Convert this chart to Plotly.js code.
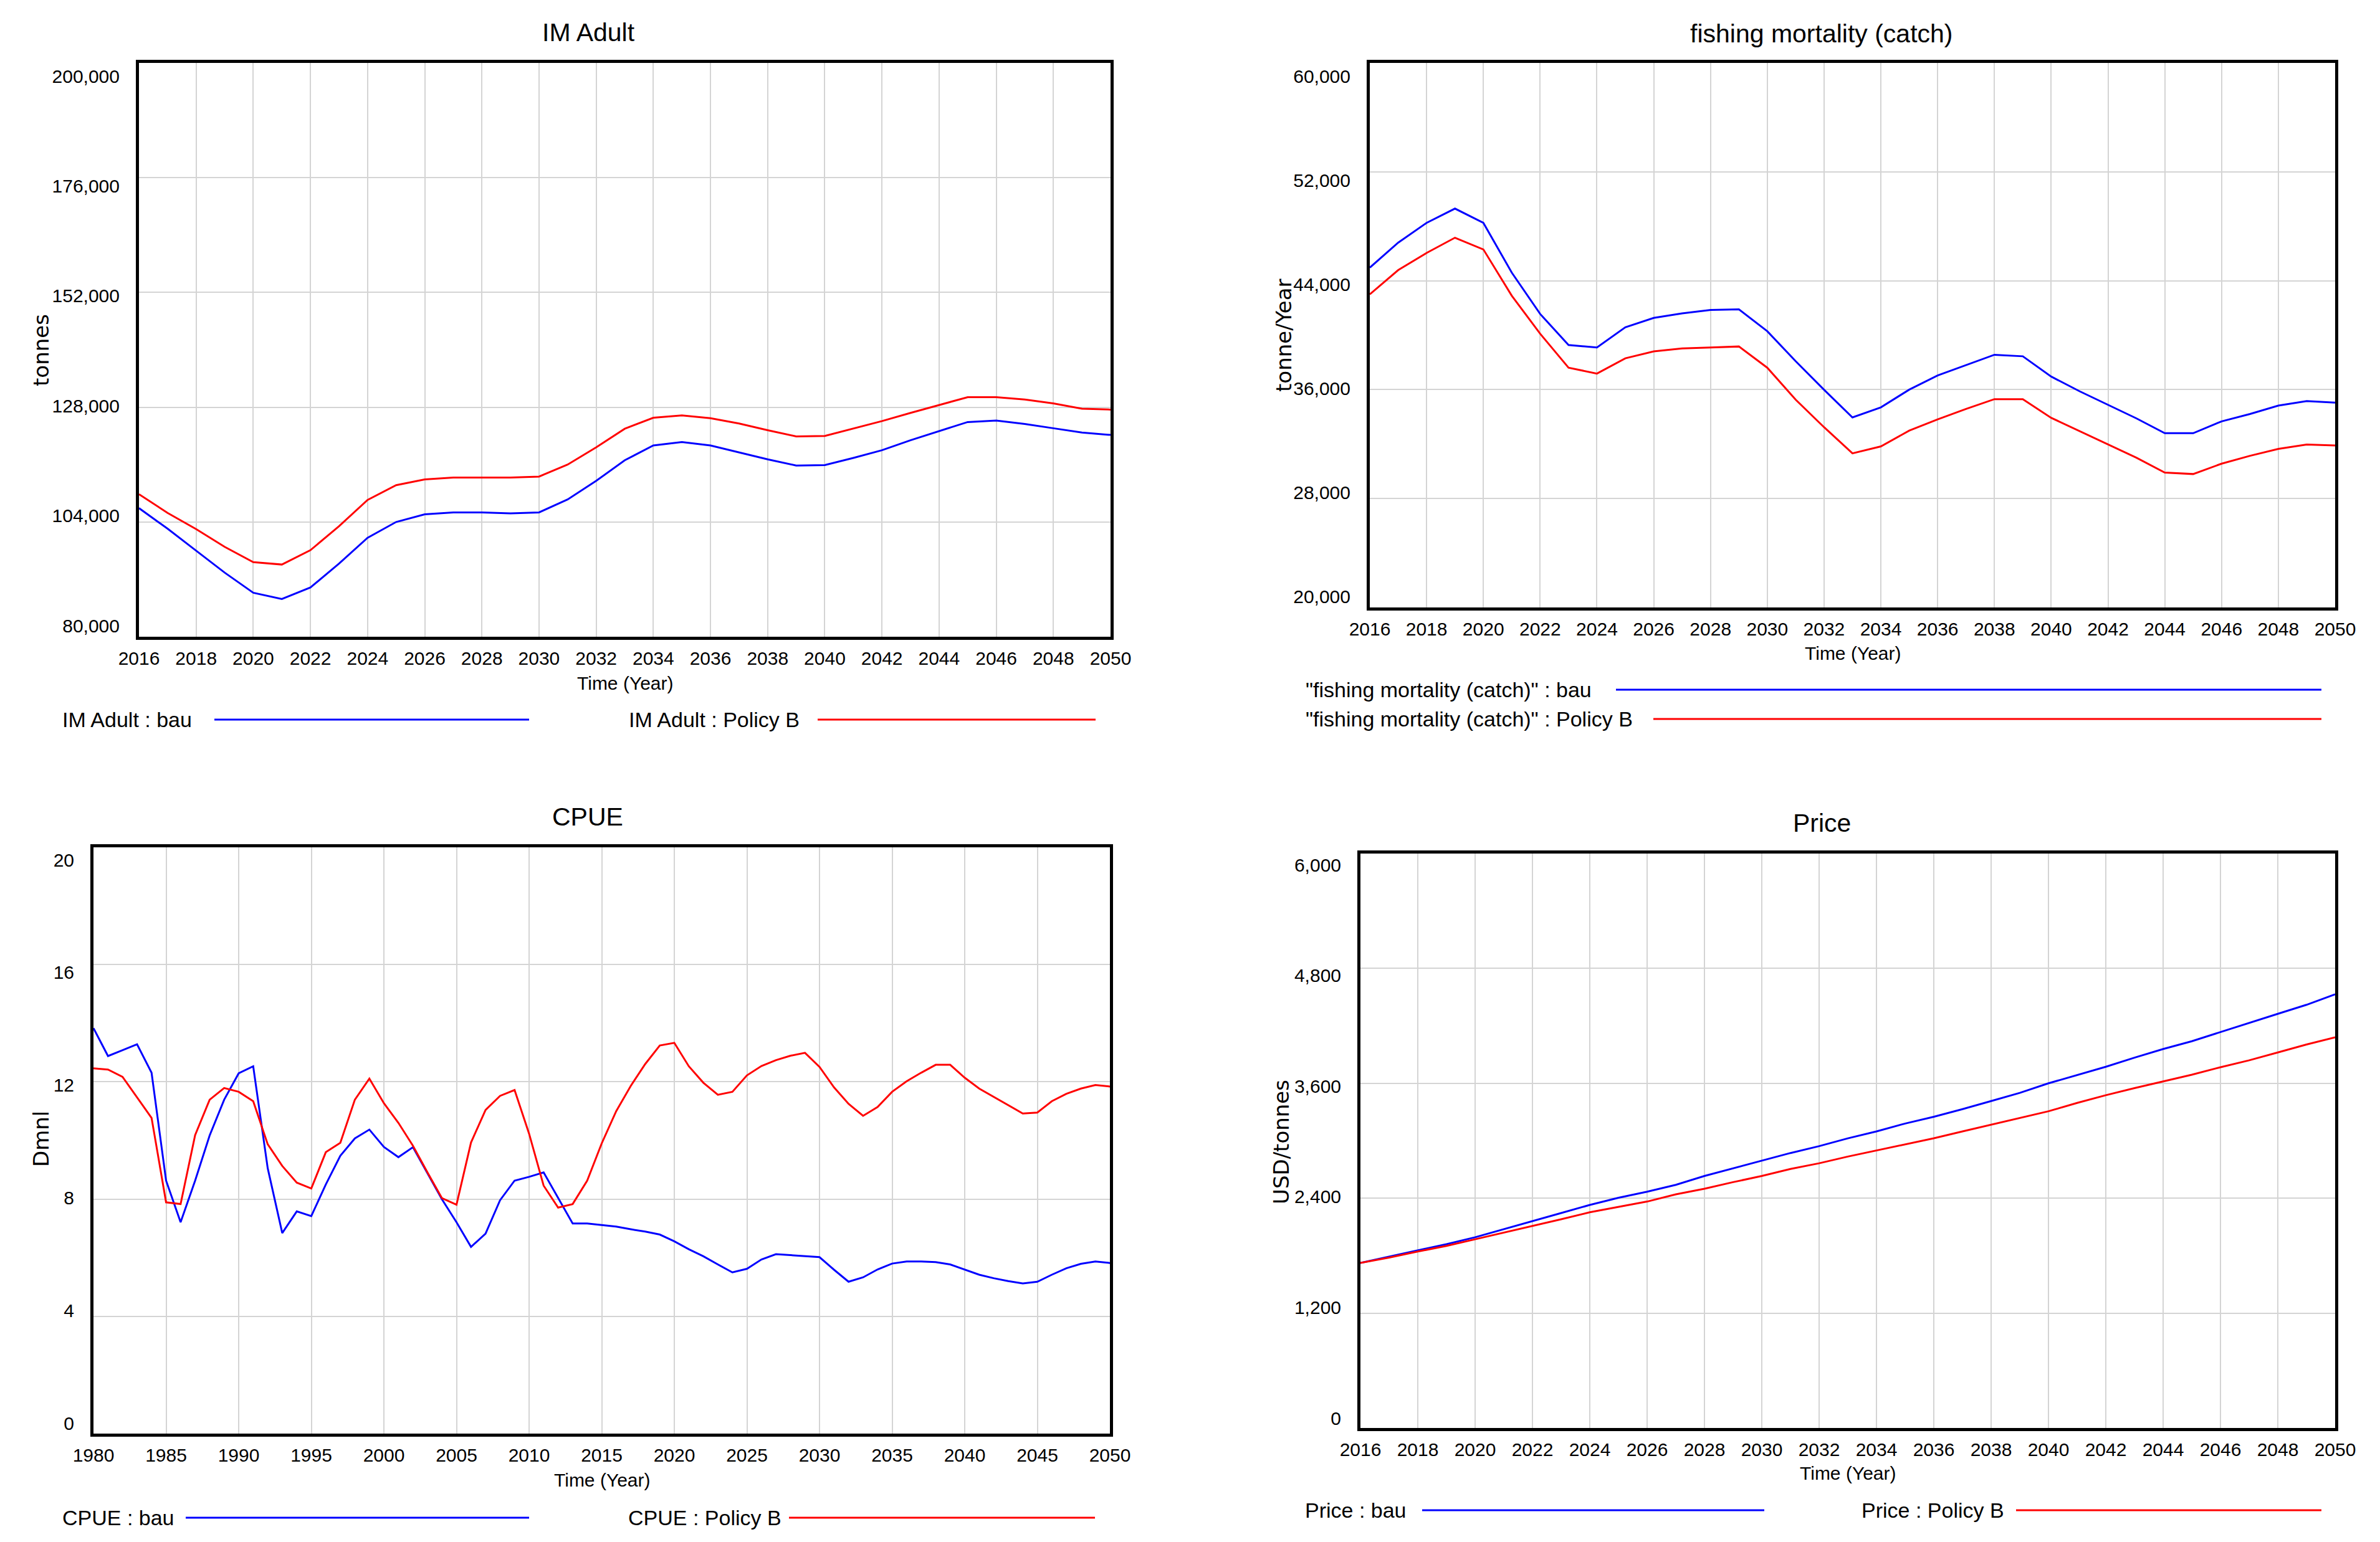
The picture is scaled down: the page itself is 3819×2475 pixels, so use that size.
<!DOCTYPE html>
<html>
<head>
<meta charset="utf-8">
<script src="https://cdn.plot.ly/plotly-3.0.1.min.js"></script>
<style>html,body{margin:0;padding:0;background:#fff;}#chart{width:3819px;height:2475px;}</style>
</head>
<body>
<div id="chart"></div>
<script>
// ---------------- DATA ----------------
const yearsA = [2016,2017,2018,2019,2020,2021,2022,2023,2024,2025,2026,2027,2028,2029,2030,2031,2032,2033,2034,2035,2036,2037,2038,2039,2040,2041,2042,2043,2044,2045,2046,2047,2048,2049,2050];
const yearsCPUE = [1980,1981,1982,1983,1984,1985,1986,1987,1988,1989,1990,1991,1992,1993,1994,1995,1996,1997,1998,1999,2000,2001,2002,2003,2004,2005,2006,2007,2008,2009,2010,2011,2012,2013,2014,2015,2016,2017,2018,2019,2020,2021,2022,2023,2024,2025,2026,2027,2028,2029,2030,2031,2032,2033,2034,2035,2036,2037,2038,2039,2040,2041,2042,2043,2044,2045,2046,2047,2048,2049,2050];

const imAdultBau = [106900,102600,98000,93400,89200,87900,90300,95300,100700,104000,105600,106000,106000,105800,106000,108700,112600,116900,120000,120700,120000,118500,117100,115800,115900,117400,119000,121100,123000,124900,125200,124500,123600,122700,122200];
const imAdultPolicyB = [109800,105900,102500,98800,95600,95100,98100,103100,108600,111700,112900,113300,113300,113300,113500,116000,119600,123500,125800,126300,125700,124600,123200,121900,122000,123500,125100,126800,128500,130100,130100,129600,128800,127700,127500];

const fishingBau = [44960,46800,48250,49300,48250,44600,41560,39280,39100,40580,41270,41600,41850,41900,40290,38090,35990,33960,34700,36000,37040,37800,38560,38450,36960,35880,34870,33890,32800,32800,33670,34210,34830,35160,35050];
const fishingPolicyB = [43000,44780,46040,47160,46300,42900,40110,37610,37180,38300,38810,39030,39100,39170,37610,35260,33240,31320,31830,32990,33820,34580,35300,35300,33930,32950,31970,31000,29910,29800,30560,31140,31650,31970,31900];

const cpueBau = [13.83,12.88,13.08,13.28,12.31,8.63,7.21,8.63,10.17,11.39,12.29,12.53,9.05,6.84,7.58,7.42,8.50,9.48,10.07,10.37,9.78,9.43,9.77,8.88,7.99,7.21,6.37,6.82,7.96,8.63,8.76,8.91,8.04,7.17,7.17,7.12,7.06,6.97,6.89,6.79,6.56,6.29,6.05,5.77,5.50,5.62,5.94,6.12,6.09,6.05,6.02,5.59,5.18,5.33,5.60,5.80,5.87,5.87,5.85,5.77,5.59,5.42,5.30,5.20,5.12,5.18,5.42,5.64,5.79,5.87,5.82];
const cpuePolicyB = [12.46,12.42,12.17,11.47,10.77,7.89,7.83,10.18,11.39,11.79,11.66,11.34,9.87,9.13,8.56,8.36,9.60,9.92,11.39,12.11,11.27,10.60,9.82,8.91,8.03,7.81,9.93,11.04,11.52,11.72,10.23,8.46,7.71,7.83,8.63,9.90,11.00,11.86,12.61,13.24,13.33,12.53,11.97,11.56,11.66,12.22,12.54,12.74,12.89,12.99,12.51,11.81,11.25,10.84,11.14,11.66,12.02,12.31,12.58,12.58,12.14,11.77,11.49,11.20,10.92,10.95,11.34,11.59,11.77,11.89,11.84];

const priceBau = [1725,1790,1853,1920,1992,2075,2160,2245,2330,2405,2468,2540,2632,2712,2790,2872,2944,3025,3098,3180,3251,3330,3415,3500,3600,3685,3773,3868,3958,4040,4137,4230,4326,4420,4530];
const pricePolicyB = [1725,1780,1843,1902,1971,2040,2109,2180,2253,2310,2365,2440,2499,2568,2632,2705,2765,2835,2898,2965,3026,3098,3169,3240,3308,3395,3476,3550,3620,3690,3768,3840,3922,4005,4081];

// tick values
const xTicksA = [2016,2018,2020,2022,2024,2026,2028,2030,2032,2034,2036,2038,2040,2042,2044,2046,2048,2050];
const xTicksCPUE = [1980,1985,1990,1995,2000,2005,2010,2015,2020,2025,2030,2035,2040,2045,2050];
const yTicksIM = [80000,104000,128000,152000,176000,200000];
const yTicksFish = [20000,28000,36000,44000,52000,60000];
const yTicksCPUE = [0,4,8,12,16,20];
const yTicksPrice = [0,1200,2400,3600,4800,6000];

// text
const titles = ["IM Adult","fishing mortality (catch)","CPUE","Price"];
const yTitles = ["tonnes","tonne/Year","Dmnl","USD/tonnes"];
const xTitle = "Time (Year)";
const legendTexts = [
  ["IM Adult : bau","IM Adult : Policy B"],
  ["\"fishing mortality (catch)\" : bau","\"fishing mortality (catch)\" : Policy B"],
  ["CPUE : bau","CPUE : Policy B"],
  ["Price : bau","Price : Policy B"]
];

// ---------------- LAYOUT (pixels) ----------------
const W = 3819, H = 2475;
const px = v => v / W;
const py = v => 1 - v / H;
const NARROW = "Liberation Sans, Arial, sans-serif";
const WIDE = "DejaVu Sans, Verdana, sans-serif";
const BLUE = "#0000ff", RED = "#ff0000";

const panels = [
  {x0:223, x1:1782, y0:101, y1:1022, xs:yearsA, a:imAdultBau, b:imAdultPolicyB, xt:xTicksA, yt:yTicksIM, yr:[80000,200000], xr:[2016,2050], tin:21, bin:18,
   title:[944,52], xtitle:[1003,1096], ytitle:[66,562],
   leg:[{tx:98, ty:1155, l0:344, l1:849},{tx:1007, ty:1155, l0:1312, l1:1758}]},
  {x0:2198, x1:3747, y0:101, y1:975, xs:yearsA, a:fishingBau, b:fishingPolicyB, xt:xTicksA, yt:yTicksFish, yr:[20000,60000], xr:[2016,2050], tin:21, bin:18,
   title:[2923,54], xtitle:[2973,1048], ytitle:[2060,538],
   leg:[{tx:2093, ty:1107, l0:2593, l1:3725},{tx:2093, ty:1154, l0:2653, l1:3725}]},
  {x0:150, x1:1781, y0:1360, y1:2301, xs:yearsCPUE, a:cpueBau, b:cpuePolicyB, xt:xTicksCPUE, yt:yTicksCPUE, yr:[0,20], xr:[1980,2050], tin:20, bin:17,
   title:[943,1311], xtitle:[966,2375], ytitle:[66,1828],
   leg:[{tx:98, ty:2436, l0:298, l1:849},{tx:1006, ty:2436, l0:1266, l1:1757}]},
  {x0:2183, x1:3747, y0:1370, y1:2292, xs:yearsA, a:priceBau, b:pricePolicyB, xt:xTicksA, yt:yTicksPrice, yr:[0,6000], xr:[2016,2050], tin:18, bin:16,
   title:[2923,1321], xtitle:[2965,2364], ytitle:[2056,1833],
   leg:[{tx:2092, ty:2424, l0:2282, l1:2831},{tx:2985, ty:2424, l0:3235, l1:3725}]}
];

const traces = [];
const layout = {
  width: W, height: H,
  margin: {l:0, r:0, t:0, b:0},
  paper_bgcolor: "#ffffff", plot_bgcolor: "#ffffff",
  showlegend: false,
  annotations: [], shapes: []
};

panels.forEach((p, i) => {
  const n = i + 1;
  const xk = n === 1 ? "x" : "x" + n;
  const yk = n === 1 ? "y" : "y" + n;
  const ylk = "y" + (n + 4);
  const names = legendTexts[i];
  traces.push({x: p.xs, y: p.a, xaxis: xk, yaxis: yk, type: "scatter", mode: "lines", name: names[0],
               line: {color: BLUE, width: 3}, hoverinfo: "skip"});
  traces.push({x: p.xs, y: p.b, xaxis: xk, yaxis: yk, type: "scatter", mode: "lines", name: names[1],
               line: {color: RED, width: 3}, hoverinfo: "skip"});
  traces.push({x: [], y: [], xaxis: xk, yaxis: ylk, type: "scatter", mode: "lines", showlegend: false, hoverinfo: "skip"});

  const xdom = [px(p.x0), px(p.x1)];
  const ydom = [py(p.y1), py(p.y0)];
  layout["xaxis" + (n === 1 ? "" : n)] = {
    domain: xdom, anchor: yk, range: p.xr, tickmode: "array", tickvals: p.xt,
    showgrid: true, gridcolor: "#d4d4d4", gridwidth: 2, zeroline: false,
    showline: true, mirror: true, linecolor: "#000000", linewidth: 5,
    ticks: "outside", ticklen: 4, tickcolor: "rgba(0,0,0,0)",
    tickfont: {family: NARROW, size: 30, color: "#000000"}
  };
  layout["yaxis" + (n === 1 ? "" : n)] = {
    domain: ydom, anchor: xk, range: p.yr, tickmode: "array", tickvals: p.yt,
    showgrid: true, gridcolor: "#d4d4d4", gridwidth: 2, zeroline: false,
    showline: true, mirror: true, linecolor: "#000000", linewidth: 5,
    showticklabels: false, ticks: ""
  };
  // label axis: tick labels spread slightly inside the frame, as in the original
  const hpx = p.y1 - p.y0;
  const span = p.yr[1] - p.yr[0];
  const unit = span / (hpx - p.tin - p.bin);
  layout["yaxis" + (n + 4)] = {
    overlaying: yk, anchor: xk, side: "left",
    range: [p.yr[0] - p.bin * unit, p.yr[1] + p.tin * unit],
    tickmode: "array", tickvals: p.yt, tickformat: ",d",
    showgrid: false, zeroline: false, showline: false,
    ticks: "outside", ticklen: 24, tickcolor: "rgba(0,0,0,0)",
    tickfont: {family: NARROW, size: 30, color: "#000000"}
  };

  layout.annotations.push({text: titles[i], xref: "paper", yref: "paper", x: px(p.title[0]), y: py(p.title[1]),
    xanchor: "center", yanchor: "middle", showarrow: false, font: {family: NARROW, size: 41, color: "#000000"}});
  layout.annotations.push({text: xTitle, xref: "paper", yref: "paper", x: px(p.xtitle[0]), y: py(p.xtitle[1]),
    xanchor: "center", yanchor: "middle", showarrow: false, font: {family: NARROW, size: 30, color: "#000000"}});
  layout.annotations.push({text: yTitles[i], xref: "paper", yref: "paper", x: px(p.ytitle[0]), y: py(p.ytitle[1]),
    xanchor: "center", yanchor: "middle", textangle: -90, showarrow: false, font: {family: WIDE, size: 34, color: "#000000"}});

  p.leg.forEach((lg, k) => {
    layout.annotations.push({text: names[k], xref: "paper", yref: "paper", x: px(lg.tx), y: py(lg.ty),
      xanchor: "left", yanchor: "middle", showarrow: false, font: {family: NARROW, size: 34, color: "#000000"}});
    layout.shapes.push({type: "line", xref: "paper", yref: "paper", x0: px(lg.l0), x1: px(lg.l1), y0: py(lg.ty), y1: py(lg.ty),
      line: {color: k === 0 ? BLUE : RED, width: 3}});
  });
});

Plotly.newPlot("chart", traces, layout, {staticPlot: true, displayModeBar: false});
</script>
</body>
</html>
